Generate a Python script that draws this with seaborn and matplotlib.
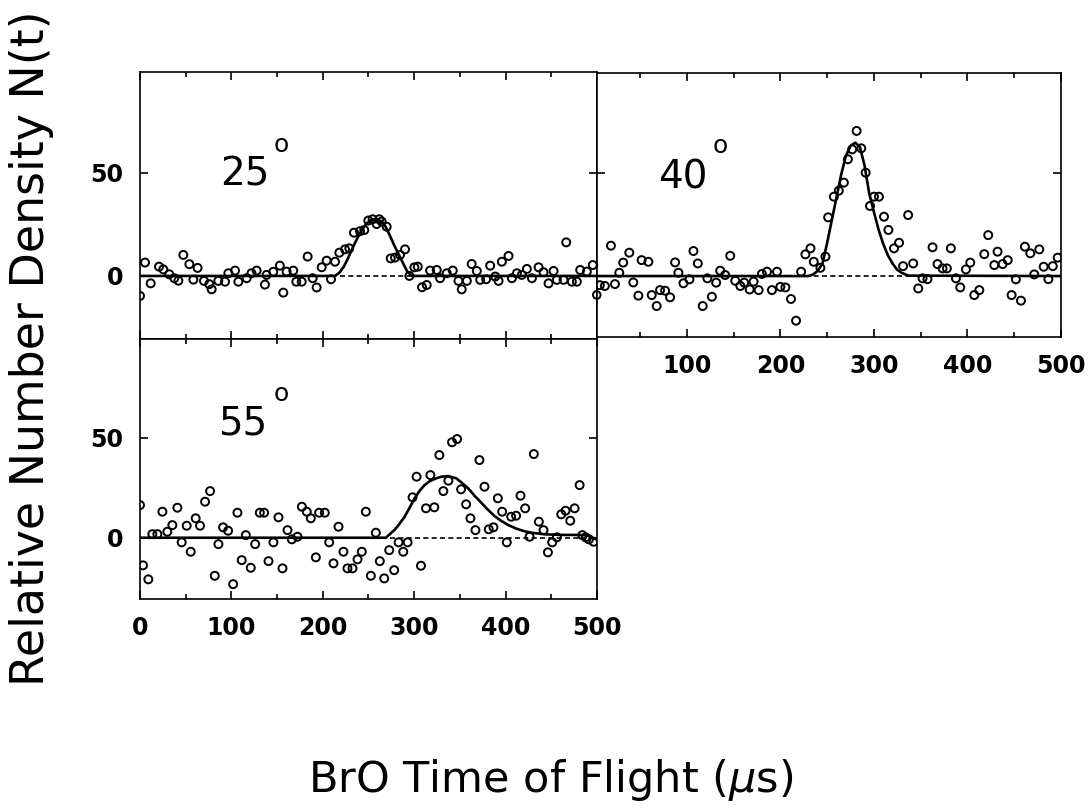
import matplotlib
matplotlib.use("Agg")
import matplotlib.pyplot as plt
from matplotlib.ticker import MultipleLocator
import seaborn as sns

# puntos medidos, 25 grados
t25 = [0, 5.5, 11.7, 20.8, 25.5, 32, 37.6, 42, 47.4, 54, 58.4, 63, 70, 75.8, 78.4,
       85.7, 93, 96.7, 104, 107.6, 116.7, 122, 127.6, 136.7, 138.5, 145.8, 153, 156.8,
       160.4, 167.7, 171, 176.9, 183.4, 188.9, 193.3, 198.8, 204.2, 209, 213.4, 218.1,
       224.3, 229, 234.1, 240.7, 245.4, 249.8, 254.5, 258.9, 264.4, 269.9, 274.3, 279,
       284.5, 290, 294.8, 300.2, 303.9, 308.6, 313.7, 317.4, 324.7, 328.3, 335.6, 342.2,
       348.4, 352, 357.6, 362.9, 368.5, 372.2, 378.7, 383.1, 388.6, 392.3, 395.9, 403.2,
       406.9, 412.4, 417.8, 423.3, 428.8, 436.1, 441.5, 447, 452.5, 456.1, 463.4, 466.3,
       472.5, 478, 481.6, 488.9, 495.4, 500, 261.8]
n25 = [-9.7, 6.5, -3.6, 4.5, 3.2, 0.8, -1.1, -2.3, 10.2, 5.7, -1.8, 3.9, -2.4, -4, -6.5,
       -2.4, -2.8, 1.3, 2.6, -2.8, -1.1, 1.3, 2.6, -4.2, 0.5, 2, 5, -8.1,
       2.1, 2.6, -2.8, -2.8, 9.4, -1.1, -5.6, 4.2, 7.4, -1.6, 6.9, 11.3,
       12.9, 13.4, 21, 21.7, 22.3, 26.9, 27.5, 25.2, 26.4, 23.9, 8.5, 8.9,
       10.2, 12.9, 0, 4.2, 4.5, -5.5, -4.4, 2.6, 2.9, -1.1, 1.3, 2.6,
       -2.4, -6.5, -2.4, 5.8, 2.4, -1.9, -1.6, 5, -0.3, -2.4, 6.9, 9.7,
       -1.1, 1.3, 0.5, 3.4, -1.1, 4.2, 1.8, -3.6, 2.4, -1.9, -1.9, 16.3,
       -2.8, -2.8, 2.9, 2.1, 5.3, -9.2, 27.5]
fit25_t = [0, 213, 218, 223, 228, 233, 238, 243, 248, 253, 258, 263, 268, 273, 278,
           283, 288, 292, 297, 500]
fit25_n = [0, 0, 1.5, 4.5, 9, 14, 18.5, 22.5, 25.5, 27.2, 27.6, 26.8, 24.5, 20, 15,
           10.5, 6, 2.5, 0, 0]

# puntos medidos, 40 grados
t40 = [0, 3.5, 7, 12.4, 18.9, 23.2, 27.8, 32, 38.5, 42.8, 48.2, 51.7, 58.9, 62.5, 67.8,
       71.4, 76.8, 82.1, 87.5, 91, 96.4, 102.8, 107.1, 111.8, 117, 122, 126.8, 131.4,
       135.7, 141, 146.4, 151.8, 157.2, 161.4, 167.2, 171.4, 176.8, 180.3, 185.7, 191,
       196.4, 200, 205.4, 211.4, 216.8, 222.2, 226.8, 232.2, 235.7, 242.8, 248.2, 251.1,
       257.2, 262.5, 267.9, 272.2, 276.8, 281.5, 286.5, 291.2, 295.8, 300.1, 305.4, 310.8,
       315.5, 321.5, 326.9, 331.2, 336.6, 342, 347.4, 352, 357.3, 362.7, 368, 373.4, 378,
       382.3, 387.7, 392.3, 398.4, 403, 407.3, 412.7, 418, 422.2, 428.7, 432.2, 437.6,
       443, 447.2, 451.8, 457.2, 461.4, 467.2, 471.4, 476.8, 481.5, 486.5, 491.2, 496.5]
n40 = [5.3, -9.2, -4.4, -4.8, 14.7, -3.9, 1.6, 6.5, 11.3, -3.1, -9.5, 7.7, 6.9, -9.2, -14.5,
       -6.8, -7.1, -10.3, 6.6, 1.6, -3.5, -1.6, 12.1, 6.1, -14.5, -1.1, -10, -3.2,
       2.6, 0.5, 9.8, -2.3, -4.8, -3.2, -6.5, -2.7, -6.8, 1, 2.1, -6.8,
       2.1, -5.2, -5.5, -11.1, -21.6, 2.1, 10.5, 13.4, 6.9, 4, 9.4, 28.4,
       38.4, 41.3, 45.2, 56.5, 61.3, 70.2, 61.8, 50, 33.9, 38.4, 38.4, 28.7,
       22.3, 13.4, 16.1, 4.8, 29.5, 6.1, -6, -1.1, -1.5, 13.9, 5.8, 3.7, 3.7,
       13.4, -1.1, -5.5, 3.2, 6.5, -9.2, -6.8, 10.6, 19.8, 5.3, 11.8, 5.8,
       7.7, -9.2, -1.6, -11.9, 14.2, 11, 0.8, 12.9, 4.5, -1.5, 4.8, 8.9]
fit40_t = [4, 230, 235, 240, 245, 250, 255, 260, 265, 270, 275, 280, 285, 290, 295,
           300, 305, 310, 315, 320, 325, 330, 337, 500]
fit40_n = [0, 0, 0.8, 2.5, 6, 16, 27, 38, 49, 58, 63, 64.5, 62.5, 53.5, 40,
           31, 22.5, 15.5, 10, 6, 3, 1.5, 0.2, 0]

# puntos medidos, 55 grados
t55 = [0, 3.3, 9.1, 13.5, 19, 24.5, 29.9, 35.4, 40.9, 45.6, 51.1, 55.5, 60.9, 65.7, 71.2,
       76.7, 81.8, 85.8, 90.9, 96.4, 101.9, 106.6, 111.3, 115.8, 121.2, 126, 131.1, 135.8,
       140.6, 146, 151.5, 155.9, 161.4, 166.1, 172.3, 177.1, 182.5, 186.9, 192.4, 196,
       202.2, 207, 211.7, 217.2, 222.6, 227, 232.5, 238, 242.7, 247.1, 252.6, 258, 262.4,
       267.2, 272.7, 278.1, 282.9, 288, 292.8, 298.2, 302.6, 307.4, 312.9, 317.7, 322,
       327.5, 331.9, 337.4, 341.4, 346.9, 351.3, 356.8, 361.5, 367, 371.4, 376.9, 381.6,
       386.7, 391.5, 396.2, 401.3, 406.1, 411.5, 416.3, 421.4, 426.2, 430.9, 436.4, 441.5,
       446.3, 451, 456.1, 460.9, 465.6, 470.7, 475.5, 481, 483.9, 487.6, 491.2, 496.3]
n55 = [16.3, -13.8, -20.8, 1.8, 1.8, 13, 3, 6.3, 15, -2.3, 6, -7, 9.7, 6, 18,
       23.3, -19, -3.2, 5.2, 3.5, -23.2, 12.5, -11.2, 1.3, -15, -3.2, 12.5, 12.5,
       -11.7, -2.3, 10.2, -15.3, 3.8, -0.8, 0.5, 15.5, 13, 9.7, -9.8, 12.5,
       12.5, -2.3, -12.8, 5.5, -7, -15.3, -15.3, -10.8, -7, 13, -19, 2.5, -11.7,
       -20.3, -6.2, -16.2, -2.3, -7, -2.3, 20.2, 30.5, -14, 14.7, 31.3, 15.2,
       41.3, 23.3, 28.5, 47.7, 49.3, 24.2, 16.7, 9.7, 3.8, 38.8, 25.5, 4.2,
       5.2, 19.7, 13, -2.3, 10.5, 11, 21, 14.7, 0.5, 41.8, 8, 3.8,
       -7.3, -2.3, 0.2, 11.7, 13.5, 8.5, 14.7, 26.3, 1.3, 0.2, -0.8, -2]
fit55_t = [0, 269, 278.5, 284, 289.5, 295, 300.4, 306, 311.4, 317, 324.2, 330, 337, 346,
           352, 359, 366, 374, 380, 388, 395, 403, 412, 421, 430, 443, 461, 483, 490, 500]
fit55_n = [0, 0, 3.9, 7, 10.5, 15, 19.7, 23.5, 26.3, 28.3, 29.7, 30.5, 30.8, 29.7,
           27.5, 24.7, 21, 17.2, 14.3, 10.8, 8.5, 6.3, 4.5, 3.2, 2.4, 1.7, 1.4, 1.4, 1.0, -1]

sns.set_theme(style="ticks", rc={
    "axes.edgecolor": "black",
    "axes.linewidth": 1.2,
    "xtick.color": "black",
    "ytick.color": "black",
    "text.color": "black",
})
plt.rcParams["font.family"] = ["DejaVu Sans"]

fig = plt.figure(figsize=(10.92, 8.09), dpi=100)
ax25 = fig.add_axes([0.1282, 0.5810, 0.4185, 0.3300])
ax40 = fig.add_axes([0.5467, 0.5834, 0.4249, 0.3263])
ax55 = fig.add_axes([0.1282, 0.2596, 0.4185, 0.3214])

paneles = [
    (ax25, t25, n25, fit25_t, fit25_n, "25", (0, 500), (-30.6, 99.0), (87.5, 43.7), (155, 60.3)),
    (ax40, t40, n40, fit40_t, fit40_n, "40", (4, 500), (-29.5, 98.2), (69, 42.4), (136, 59.6)),
    (ax55, t55, n55, fit55_t, fit55_n, "55", (0, 500), (-30.6, 99.3), (85.5, 51.7), (154, 68.5)),
]

for ax, t, n, ft, fn, angulo, xl, yl, pos_num, pos_grado in paneles:
    ax.axhline(0, color="black", lw=1.2, ls=(0, (3, 2)), zorder=1.5)
    sns.lineplot(x=ft, y=fn, ax=ax, color="black", linewidth=1.9,
                 sort=False, estimator=None, zorder=2)
    sns.scatterplot(x=t, y=n, ax=ax, marker="o", s=33, facecolors="none",
                    edgecolor="black", linewidth=1.4, zorder=3)
    ax.set_xlim(*xl)
    ax.set_ylim(*yl)
    ax.set_xlabel("")
    ax.set_ylabel("")
    ax.xaxis.set_major_locator(MultipleLocator(100))
    ax.xaxis.set_minor_locator(MultipleLocator(50))
    ax.set_yticks([0, 50])
    ax.tick_params(which="both", direction="in", top=True, right=True,
                   width=1.2, labelsize=17, pad=12)
    ax.tick_params(which="major", length=6)
    ax.tick_params(which="minor", length=3.5)
    # etiquetas de los ticks en negrita
    plt.setp(ax.get_xticklabels() + ax.get_yticklabels(), fontweight="bold")
    ax.text(pos_num[0], pos_num[1], angulo, fontsize=28,
            ha="left", va="baseline")
    ax.text(pos_grado[0], pos_grado[1], "o", fontsize=18,
            ha="center", va="baseline")

ax25.tick_params(labelbottom=False)
ax40.tick_params(labelleft=False)

fig.text(0.029, 0.569, "Relative Number Density N(t)", rotation=90,
         fontsize=33, ha="center", va="center")
fig.text(0.504, 0.021, r"BrO Time of Flight ($\mu$s)", fontsize=31,
         ha="center", va="baseline")

fig.savefig("out.png", dpi=100)
